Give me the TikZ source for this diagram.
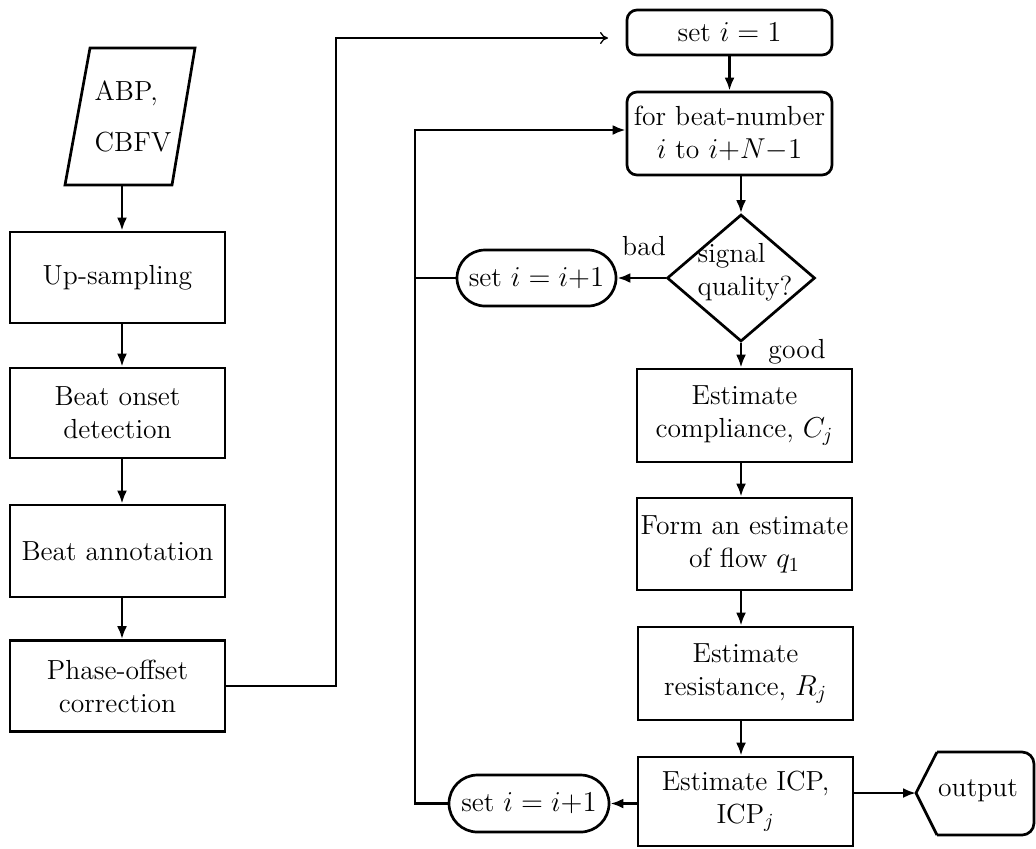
\documentclass[tikz,border=0pt]{standalone}
\usetikzlibrary{arrows.meta,shapes.geometric,shapes.misc}
\begin{document}
\begin{tikzpicture}[x=0.5pt,y=-0.5pt,
  font=\fontsize{13.8}{16.5}\selectfont,
  line width=1.35pt,
  box/.style={draw,rectangle,inner xsep=0.5pt,inner ysep=1pt,align=center,minimum width=107.5pt},
  rbox/.style={draw,rectangle,rounded corners=5pt,inner xsep=0.5pt,align=center,minimum width=102.5pt},
  stad/.style={draw,rounded rectangle,inner xsep=2pt,align=center},
  arr/.style={-{Latex[length=6.5pt,width=5pt]}},
  thinarr/.style={line width=0.65pt,-{To[length=4pt,width=6pt]}},
  plain/.style={align=center,inner sep=0pt}
]
\useasboundingbox (0,0) rectangle (1036,848);

% input parallelogram
\draw (90,48) -- (195,48) -- (172,185) -- (65,185) -- cycle;
\node[plain,align=left] (in) at (133,116) {ABP,\\[9pt]CBFV};
\coordinate (inb) at (122,185);

% left column
\node[box,minimum height=45.5pt] (up) at (117.5,277.5) {Up-sampling};
\node[box,minimum height=45pt] (onset) at (117.5,413) {Beat onset\\detection};
\node[box,minimum height=46pt] (annot) at (117.5,551) {Beat annotation};
\node[box,minimum height=45.5pt] (phase) at (117.5,686) {Phase-offset\\correction};

% right column
\node[rbox,minimum height=22.5pt] (set1) at (729.5,32.5) {set $i = 1$};
\node[rbox,minimum height=41.5pt] (for) at (729.5,133.5) {for beat-number\\$i$ to $i{+}N{-}1$};
\node[draw,diamond,minimum width=74pt,minimum height=63.5pt,inner sep=0pt] (dia) at (741,278) {};
\node[plain,align=left] (sq) at (745,272) {signal\\quality?};
\node[stad,minimum width=83.5pt,minimum height=28pt] (st1) at (536.5,278) {set $i = i{+}1$};
\node[plain] (bad) at (644,246) {bad};
\node[plain] (good) at (797,352) {good};

\node[box,minimum height=46.5pt] (comp) at (744.5,415.5) {Estimate\\compliance, $C_j$};
\node[box,minimum height=46pt] (flow) at (744.5,544) {Form an estimate\\of flow $q_1$};
\node[box,minimum height=46.5pt] (res) at (745.5,673.5) {Estimate\\resistance, $R_j$};
\node[box,minimum height=44.5pt] (icp) at (745.5,801.5) {Estimate ICP,\\ICP$_j$};
\node[stad,minimum width=84pt,minimum height=28.5pt] (st2) at (529,803.5) {set $i = i{+}1$};

% output shape
\draw[rounded corners=6pt] (937,752) -- (1034,752) -- (1034,835) -- (937,835);
\draw[line join=miter] (937,752) -- (916,793) -- (937,835);
\node[plain] (out) at (978,791) {output};
\coordinate (outl) at (916,793);

% connectors left
\draw[arr] (inb) -- (inb |- up.north);
\draw[arr] (inb |- up.south) -- (inb |- onset.north);
\draw[arr] (inb |- onset.south) -- (inb |- annot.north);
\draw[arr] (inb |- annot.south) -- (inb |- phase.north);
\coordinate (t1) at (608,38);
\draw[thinarr] (phase.east) -| (336,38) -- (t1);

% connectors right
\draw[arr] (set1.south) -- (for.north);
\draw[arr] (for.south -| dia.north) -- (dia.north);
\draw[arr] (dia.west) -- (st1.east);
\draw (st1.west) -- (415,278);
\draw[arr] (dia.south) -- (dia.south |- comp.north);
\draw[arr] (dia.south |- comp.south) -- (dia.south |- flow.north);
\draw[arr] (dia.south |- flow.south) -- (dia.south |- res.north);
\draw[arr] (dia.south |- res.south) -- (dia.south |- icp.north);
\draw[arr] (icp.west |- st2.east) -- (st2.east);
\draw[arr] (st2.west) -| (415,130) -- (for.west |- 0,130);
\draw[arr] (icp.east |- outl) -- (outl);
\end{tikzpicture}
\end{document}
